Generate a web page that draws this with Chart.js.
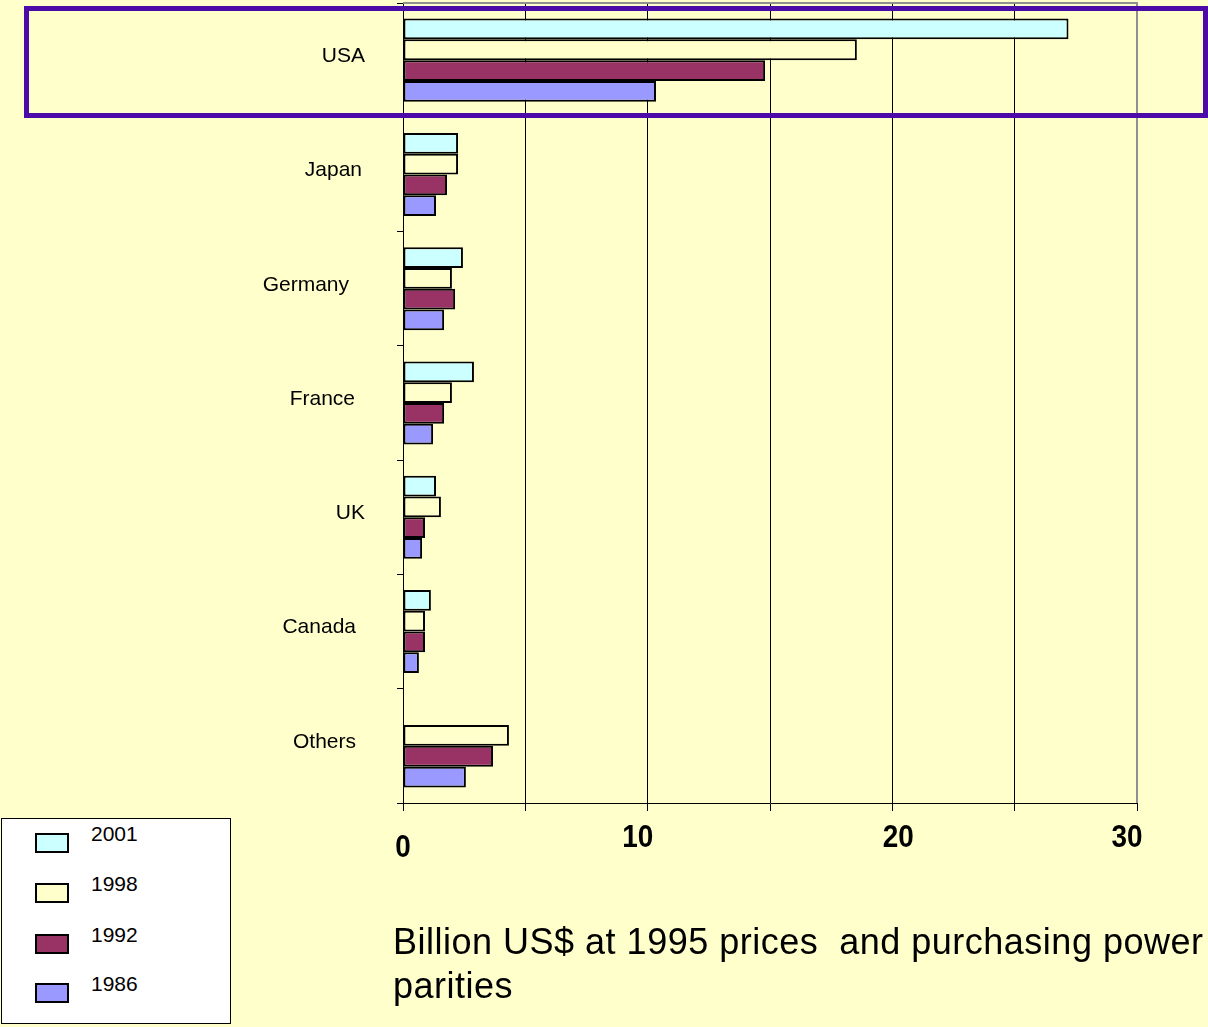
<!DOCTYPE html>
<html>
<head>
<meta charset="utf-8">
<script src="https://cdn.jsdelivr.net/npm/chart.js@4.4.1/dist/chart.umd.min.js"></script>
<style>
  html, body { margin: 0; padding: 0; background: #ffffcc; }
  #wrap { position: relative; width: 1208px; height: 1027px; overflow: hidden; }
  #rdChart { position: absolute; left: 0; top: 0; }
  #highlight { position: absolute; left: 24px; top: 6px; width: 1174px; height: 102px;
    border: 5px solid #4c0aa8; pointer-events: none; }
  #legend { position: absolute; left: 1px; top: 818px; width: 228px; height: 204px;
    background: #fff; border: 1px solid #000; font-family: "Liberation Sans", Arial, sans-serif; font-size: 21px; }
  #legend .sw { position: absolute; left: 33px; width: 30px; height: 16px; border: 2px solid #000; }
  #legend .lb { position: absolute; left: 89px; color: #000; line-height: 24px; }
  #caption { position: absolute; left: 393px; top: 920px; white-space: nowrap;
    font-family: "Liberation Sans", Arial, sans-serif; font-size: 36px; letter-spacing: 0.5px;
    line-height: 44px; color: #000; }
</style>
</head>
<body>
<div id="wrap">
  <canvas id="rdChart" width="1208" height="1027"></canvas>
  <div id="highlight"></div>
  <div id="legend"></div>
  <div id="caption">Billion US$ at 1995 prices &nbsp;and purchasing power<br>parities</div>
</div>
<script>
// countries, top to bottom
var countries = ["USA", "Japan", "Germany", "France", "UK", "Canada", "Others"];
var years = ["2001", "1998", "1992", "1986"];
var values2001 = [27.2, 2.25, 2.45, 2.9, 1.35, 1.14, null];
var values1998 = [18.55, 2.25, 2.0, 2.0, 1.55, 0.9, 4.33];
var values1992 = [14.8, 1.8, 2.13, 1.68, 0.9, 0.9, 3.68];
var values1986 = [10.34, 1.35, 1.68, 1.23, 0.78, 0.65, 2.57];
var xTickLabels = [0, 10, 20, 30];

var colors = ['#ccffff', '#ffffcc', '#993366', '#9999ff'];
var series = [values2001, values1998, values1992, values1986];

var datasets = years.map(function(y, i) {
  return {
    label: y,
    data: series[i],
    backgroundColor: colors[i],
    borderColor: '#000',
    borderWidth: 2,
    borderSkipped: false,
    categoryPercentage: 0.727,
    barPercentage: 1.0
  };
});

// axis labels are drawn by hand: the old layout has them a bit uneven
var labelsPlugin = {
  id: 'handLabels',
  afterDraw: function(chart) {
    var ctx = chart.ctx;
    var x = chart.scales.x;
    var y = chart.scales.y;
    ctx.save();
    ctx.fillStyle = '#000';

    ctx.font = 'bold 31px "Liberation Sans", Arial, sans-serif';
    ctx.textAlign = 'center';
    ctx.textBaseline = 'middle';
    var xNudge = { 0: [0, 45], 10: [-10, 35], 20: [6, 35], 30: [-10, 35] };
    xTickLabels.forEach(function(v) {
      var n = xNudge[v] || [0, 35];
      var px = x.getPixelForValue(v) + n[0];
      var py = x.top + n[1];
      ctx.save();
      ctx.translate(px, py);
      ctx.scale(0.9, 1);
      ctx.fillText(String(v), 0, 0);
      ctx.restore();
    });

    ctx.font = '21px "Liberation Sans", Arial, sans-serif';
    ctx.textAlign = 'right';
    var yNudge = [5, 2, -11, -5, 5, -4, -4];
    countries.forEach(function(c, i) {
      var py = y.getPixelForValue(i) - 4;
      ctx.fillText(c, 360 + yNudge[i], py);
    });
    ctx.restore();
  }
};

// grey top and right edges of the plot
var framePlugin = {
  id: 'frame',
  afterDatasetsDraw: function(chart) {
    var a = chart.chartArea;
    var ctx = chart.ctx;
    ctx.save();
    ctx.strokeStyle = '#909090';
    ctx.lineWidth = 2;
    ctx.beginPath();
    ctx.moveTo(a.left, a.top);
    ctx.lineTo(a.right, a.top);
    ctx.lineTo(a.right, a.bottom);
    ctx.stroke();
    ctx.restore();
  }
};

var ctx = document.getElementById('rdChart').getContext('2d');
var rdChart = new Chart(ctx, {
  type: 'bar',
  data: { labels: countries, datasets: datasets },
  plugins: [framePlugin, labelsPlugin],
  options: {
    indexAxis: 'y',
    responsive: false,
    animation: false,
    layout: { padding: { top: 3, right: 71, left: 0, bottom: 0 } },
    plugins: {
      legend: { display: false },
      tooltip: { enabled: false }
    },
    scales: {
      x: {
        min: 0, max: 30,
        ticks: { stepSize: 5, display: false },
        grid: { color: '#000', lineWidth: 1, tickLength: 8, drawTicks: true },
        border: { color: '#000', width: 1 },
        afterFit: function(s) { s.height = 224; s.paddingLeft = 0; s.paddingRight = 0; }
      },
      y: {
        offset: true,
        grid: { offset: true, drawOnChartArea: false, color: '#000', tickLength: 6 },
        border: { color: '#000', width: 1 },
        ticks: { display: false },
        afterFit: function(s) { s.width = 403; s.paddingTop = 0; s.paddingBottom = 0; }
      }
    }
  }
});

// legend box built from the dataset list
var legend = document.getElementById('legend');
var swTops = [14, 64, 115, 164];
years.forEach(function(y, i) {
  var sw = document.createElement('div');
  sw.className = 'sw';
  sw.style.top = swTops[i] + 'px';
  sw.style.background = colors[i];
  legend.appendChild(sw);
  var lb = document.createElement('div');
  lb.className = 'lb';
  lb.style.top = (swTops[i] - 11) + 'px';
  lb.textContent = y;
  legend.appendChild(lb);
});
</script>
</body>
</html>
